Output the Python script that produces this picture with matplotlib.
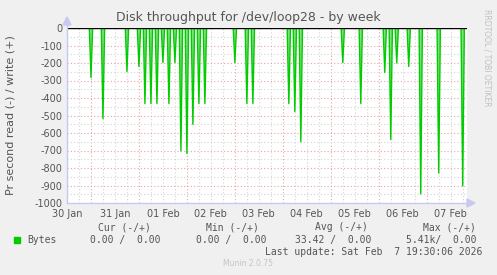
import matplotlib
matplotlib.use("Agg")
import matplotlib.pyplot as plt
import matplotlib.dates as mdates
import numpy as np
from datetime import datetime, timedelta

# ---- data ----
spike_times = [
    "2026-01-31 00:00", "2026-01-31 06:00", "2026-01-31 18:00",
    "2026-02-01 00:00", "2026-02-01 03:00", "2026-02-01 06:00", "2026-02-01 09:00",
    "2026-02-01 12:00", "2026-02-01 15:00", "2026-02-01 18:00", "2026-02-01 21:00",
    "2026-02-02 00:00", "2026-02-02 03:00", "2026-02-02 06:00", "2026-02-02 09:00",
    "2026-02-03 00:00", "2026-02-03 06:00", "2026-02-03 09:00",
    "2026-02-04 03:00", "2026-02-04 06:00", "2026-02-04 09:00",
    "2026-02-05 06:00", "2026-02-05 15:00",
    "2026-02-06 03:00", "2026-02-06 06:00", "2026-02-06 09:00", "2026-02-06 15:00",
    "2026-02-06 21:00", "2026-02-07 06:00", "2026-02-07 18:00",
]
spike_values = [
    -283, -518, -249,
    -220, -432, -432, -432,
    -197, -432, -197, -702,
    -717, -551, -432, -432,
    -197, -432, -432,
    -432, -478, -650,
    -197, -432,
    -254, -637, -200, -220,
    -948, -828, -902,
]
day_labels = ["30 Jan", "31 Jan", "01 Feb", "02 Feb", "03 Feb", "04 Feb", "05 Feb", "06 Feb", "07 Feb"]
y_ticks = [0, -100, -200, -300, -400, -500, -600, -700, -800, -900, -1000]

legend_headers = ["Cur (-/+)", "Min (-/+)", "Avg (-/+)", "Max (-/+)"]
legend_values = ["0.00 /  0.00", "0.00 /  0.00", "33.42 /  0.00", "5.41k/  0.00"]
series_name = "Bytes"
last_update = "Last update: Sat Feb  7 19:30:06 2026"

# ---- figure ----
W, H = 497, 275
fig = plt.figure(figsize=(W / 100, H / 100), dpi=100)
fig.patch.set_facecolor("#F0F0F0")

px_l, px_r, px_t, px_b = 67, 467, 28, 203
ax = fig.add_axes([px_l / W, 1 - px_b / H, (px_r - px_l) / W, (px_b - px_t) / H])
ax.set_facecolor("white")

t0 = datetime(2026, 1, 31, 0, 0)
xmin = t0 - timedelta(hours=11.85)
xmax = t0 + timedelta(hours=188.15)
ax.set_xlim(mdates.date2num(xmin), mdates.date2num(xmax))
ax.set_ylim(-1000, 0)

for s in ax.spines.values():
    s.set_visible(False)

# grid
minor_col = "#D4D4D4"
major_col = "#E9A3A3"
t = datetime(2026, 1, 30, 12, 0)
while t <= xmax:
    xn = mdates.date2num(t)
    if t.hour == 0:
        ax.axvline(xn, color=major_col, lw=0.8, ls=(0, (1, 2)), zorder=1)
    elif t >= xmin:
        ax.axvline(xn, color=minor_col, lw=0.8, ls=(0, (1, 2)), zorder=1)
    t += timedelta(hours=6)
for yv in range(-1000, 1, 50):
    if yv % 100 == 0:
        if yv not in (0, -1000):
            ax.axhline(yv, color=major_col, lw=0.8, ls=(0, (1, 2)), zorder=1)
    else:
        ax.axhline(yv, color=minor_col, lw=0.8, ls=(0, (1, 2)), zorder=1)

# spikes
hw = timedelta(minutes=50)
for ts, v in zip(spike_times, spike_values):
    tc = datetime.strptime(ts, "%Y-%m-%d %H:%M")
    xs = mdates.date2num([tc - hw, tc, tc + hw])
    ys = [0, v, 0]
    ax.fill(xs, ys, color="#80E080", lw=0, zorder=2)
    ax.plot(xs, ys, color="#00CC00", lw=1.0, zorder=3)

# zero line
ax.axhline(0, color="black", lw=1.0, zorder=4)

# axes lines with arrows (figure coords)
axis_col = "#C8C8F0"
fig.add_artist(plt.Line2D([px_l / W, px_l / W], [1 - px_b / H, 1 - 22 / H], color=axis_col, lw=1.0))
fig.add_artist(plt.Line2D([px_l / W, 468 / W], [1 - px_b / H, 1 - px_b / H], color=axis_col, lw=1.0))
fig.add_artist(plt.Polygon([[(px_l - 4) / W, 1 - 25 / H], [(px_l + 4) / W, 1 - 25 / H], [px_l / W, 1 - 17 / H]],
                           closed=True, color=axis_col, transform=fig.transFigure))
fig.add_artist(plt.Polygon([[467 / W, 1 - 199 / H], [467 / W, 1 - 207 / H], [475 / W, 1 - px_b / H]],
                           closed=True, color=axis_col, transform=fig.transFigure))

# ticks
txt_col = "#555555"
ax.set_yticks(y_ticks)
ax.set_yticklabels([str(v) for v in y_ticks], fontsize=7, color=txt_col)
label_pos = [mdates.date2num(datetime(2026, 1, 30, 12) + timedelta(days=i)) for i in range(len(day_labels))]
ax.set_xticks(label_pos)
ax.set_xticklabels(day_labels, fontsize=7, color=txt_col)
ax.tick_params(axis="both", length=0, pad=3)
ax.tick_params(axis="x", pad=4)

ax.set_ylabel("Pr second read (-) / write (+)", fontsize=8, color=txt_col, va="center")
ax.yaxis.set_label_coords((11 - px_l) / (px_r - px_l), 0.5)

# title
fig.text(248 / W, 1 - 18 / H, "Disk throughput for /dev/loop28 - by week", ha="center", va="center",
         fontsize=9, color="#555555")
# rrdtool watermark
fig.text(487 / W, 1 - 58 / H, "RRDTOOL / TOBI OETIKER", rotation=270, ha="center", va="center",
         fontsize=5.5, color="#C0C0C0")

# legend
mono = "DejaVu Sans Mono"
hdr_right = [151, 259, 368, 476]
for h, xr in zip(legend_headers, hdr_right):
    fig.text(xr / W, 1 - 227.5 / H, h, ha="right", va="center", fontsize=7, family=mono, color=txt_col)
val_right = [161, 266, 371, 477]
for v, xr in zip(legend_values, val_right):
    fig.text(xr / W, 1 - 239.7 / H, v, ha="right", va="center", fontsize=7, family=mono, color=txt_col)
fig.add_artist(plt.Rectangle((14 / W, 1 - 243 / H), 6 / W, 6 / H, color="#00CC00", transform=fig.transFigure))
fig.text(27 / W, 1 - 239.7 / H, series_name, ha="left", va="center", fontsize=7, family=mono, color=txt_col)
fig.text(482 / W, 1 - 251.7 / H, last_update, ha="right", va="center", fontsize=7, family=mono, color=txt_col)
fig.text(248 / W, 1 - 263.7 / H, "Munin 2.0.75", ha="center", va="center", fontsize=5.5, color="#C4C4C4")

fig.savefig("out.png", dpi=100, facecolor=fig.get_facecolor())
